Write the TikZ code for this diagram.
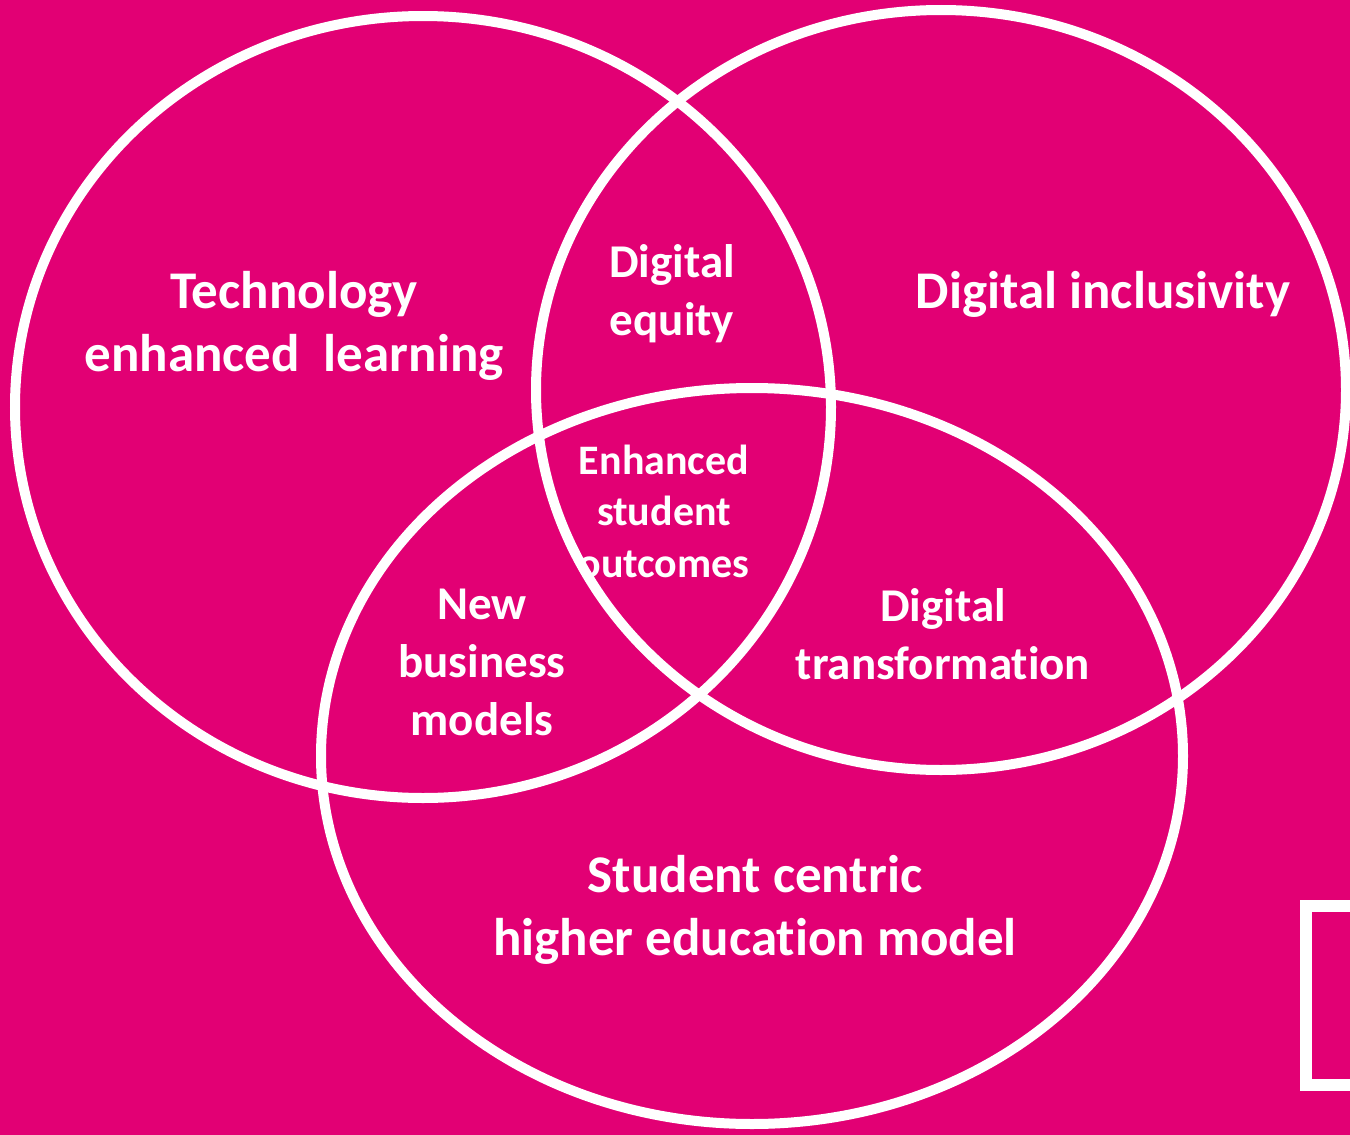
\documentclass[tikz,border=0pt]{standalone}
\usepackage{fontspec}
\setmainfont{Carlito}[Ligatures=NoCommon]
\definecolor{mag}{HTML}{E20074}
\begin{document}
\begin{tikzpicture}[x=1pt,y=-1pt,
  ring/.style={draw=white,line width=10pt},
  lbl/.style={text=white,align=center,inner sep=0pt},
  lblbig/.style={lbl,font=\bfseries\fontsize{53}{63}\selectfont},
  lblmid/.style={lbl,font=\bfseries\fontsize{47}{58}\selectfont},
  lblsmall/.style={lbl,font=\bfseries\fontsize{42}{51.5}\selectfont}]
\fill[mag] (0,0) rectangle (1350,1135);
\useasboundingbox (0,0) rectangle (1350,1135);
\clip (0,0) rectangle (1350,1135);
% labels
\node[lblbig] (tel) at (294,326) {Technology\\enhanced~~learning};
\node[lblbig] (dinc) at (1103,294) {Digital inclusivity};
\node[lblmid] (deq) at (672,294) {Digital\\equity};
\node[lblsmall] (eso) at (664,511) {Enhanced\\student\\outcomes};
\node[lblmid] (nbm) at (482,662) {New\\business\\models};
\node[lblmid] (dtr) at (943,634) {Digital\\transformation};
\node[lblbig] (sch) at (755,910) {Student centric\\higher education model};
% rings
\draw[ring] (423,407) ellipse [x radius=408pt, y radius=391pt];
\draw[ring] (941,390) ellipse [x radius=405pt, y radius=380pt];
\draw[ring] (752,756) ellipse [x radius=431pt, y radius=368pt];
% frame at the right edge
\draw[draw=white,line width=12pt] (1306,906) rectangle (1400,1085);
\end{tikzpicture}
\end{document}
